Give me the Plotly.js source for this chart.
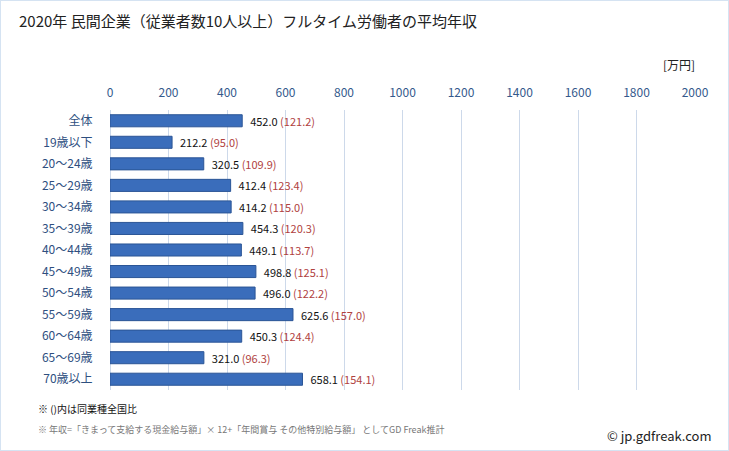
<!DOCTYPE html>
<html><head><meta charset="utf-8">
<script src="https://cdn.plot.ly/plotly-3.0.1.min.js"></script>
<style>body{margin:0;padding:0;background:#fff}#chart{width:729px;height:451px}</style>
</head><body><div id="chart"></div>
<script>
const categories = ["全体","19歳以下","20～24歳","25～29歳","30～34歳","35～39歳","40～44歳","45～49歳","50～54歳","55～59歳","60～64歳","65～69歳","70歳以上"];
const salary = [452.0,212.2,320.5,412.4,414.2,454.3,449.1,498.8,496.0,625.6,450.3,321.0,658.1];
const ratio = [121.2,95.0,109.9,123.4,115.0,120.3,113.7,125.1,122.2,157.0,124.4,96.3,154.1];
const tickVals = [0,200,400,600,800,1000,1200,1400,1600,1800,2000];

const labels = salary.map((v,i)=> '  ' + v.toFixed(1) + ' <span style="color:#b0413e">(' + ratio[i].toFixed(1) + ')</span>');
const font = "Noto Sans CJK JP, sans-serif";

const trace = {
  type:'bar', orientation:'h',
  y: categories, x: salary,
  text: labels, textposition:'outside', cliponaxis:false, constraintext:'none',
  textfont:{family:font,size:11,color:'#111'},
  marker:{color:'#3a6dbb', line:{color:'#2b5596', width:1}},
  width:0.56, hoverinfo:'skip'
};

const layout = {
  width:729, height:451,
  margin:{l:110, r:34, t:110, b:61},
  paper_bgcolor:'#fff', plot_bgcolor:'#fff',
  showlegend:false,
  font:{family:font},
  xaxis:{range:[0,2000], side:'top', tickvals:tickVals, ticktext:tickVals.map(String),
    tickfont:{family:font,size:12,color:'#34598c'}, showgrid:true, gridcolor:'#cdd9ea', gridwidth:1,
    zeroline:true, zerolinecolor:'#cdd9ea', showline:false, ticks:'outside', ticklen:7, tickcolor:'rgba(0,0,0,0)', fixedrange:true},
  yaxis:{autorange:'reversed', tickfont:{family:font,size:12,color:'#2e4f7f'}, ticks:'outside', ticklen:14, tickcolor:'rgba(0,0,0,0)',
    showgrid:false, zeroline:false, showline:false, fixedrange:true},
  shapes:[{type:'rect', xref:'paper', yref:'paper', x0:-110/585, x1:1+34/585, y0:-61/280, y1:1+110/280,
    line:{color:'#d5e3f2', width:2}, fillcolor:'rgba(0,0,0,0)'}],
  annotations:[
    {xref:'paper', yref:'paper', x:-110/585+17/585, y:1+(110-20)/280, xanchor:'left', yanchor:'middle', showarrow:false,
     text:'2020年 民間企業（従業者数10人以上）フルタイム労働者の平均年収', font:{family:font,size:15,color:'#222'}},
    {xref:'paper', yref:'paper', x:1+2/585, y:1+(110-65)/280, xanchor:'right', yanchor:'middle', showarrow:false,
     text:'[万円]', font:{family:font,size:12,color:'#222'}},
    {xref:'paper', yref:'paper', x:-110/585+36/585, y:-(408-390)/280, xanchor:'left', yanchor:'middle', showarrow:false,
     text:'※ ()内は同業種全国比', font:{family:font,size:10,color:'#111'}},
    {xref:'paper', yref:'paper', x:-110/585+36/585, y:-(429-390)/280, xanchor:'left', yanchor:'middle', showarrow:false,
     text:'※ 年収=「きまって支給する現金給与額」× 12+「年間賞与 その他特別給与額」 としてGD Freak推計', font:{family:font,size:9,color:'#777'}},
    {xref:'paper', yref:'paper', x:1+19/585, y:-(435-390)/280, xanchor:'right', yanchor:'middle', showarrow:false,
     text:'© jp.gdfreak.com', font:{family:font,size:13,color:'#222'}}
  ]
};
Plotly.newPlot('chart',[trace],layout,{displayModeBar:false, staticPlot:true});
</script></body></html>
